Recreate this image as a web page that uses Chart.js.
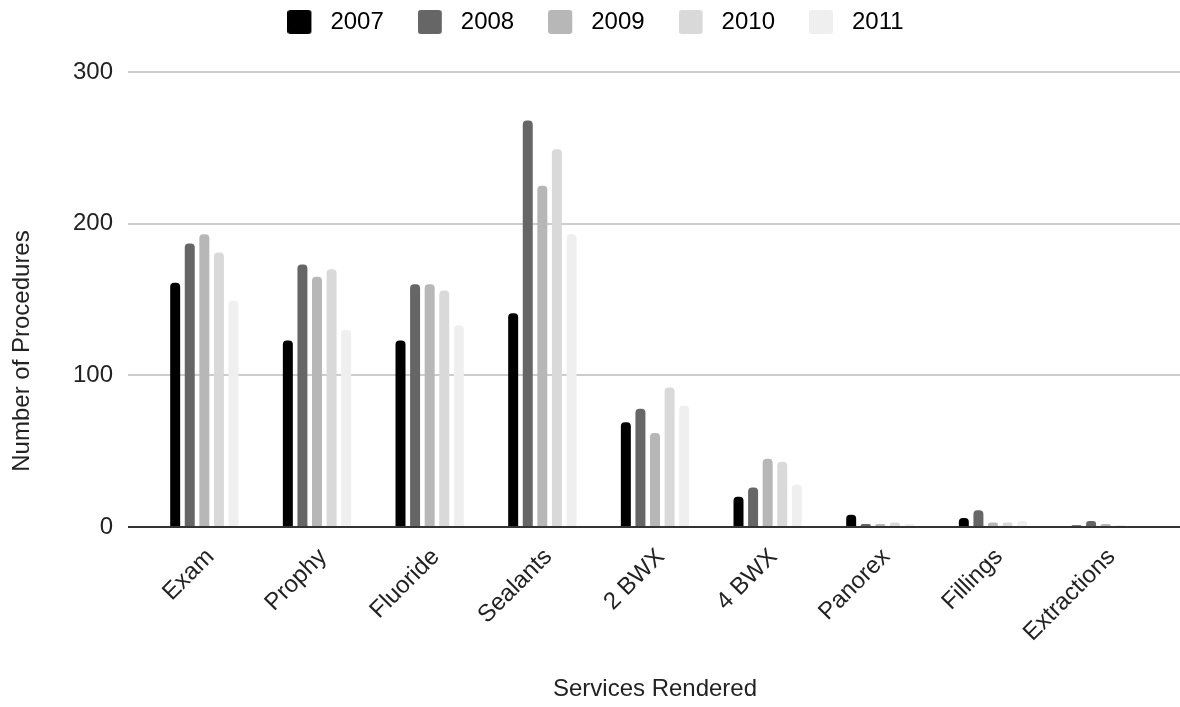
<!DOCTYPE html>
<html>
<head>
<meta charset="utf-8">
<script src="https://cdn.jsdelivr.net/npm/chart.js@4"></script>
<style>
    body { margin: 0; background: #ffffff; }
    canvas { display: block; }
</style>
</head>
<body>
<canvas id="servicesChart" width="1180" height="707"></canvas>
<script>
// categories on the x axis
const services = ["Exam", "Prophy", "Fluoride", "Sealants", "2 BWX", "4 BWX", "Panorex", "Fillings", "Extractions"];

// one series per year
const years = ["2007", "2008", "2009", "2010", "2011"];
const counts2007 = [161, 123, 123, 141, 69, 20, 8, 6, 1];
const counts2008 = [187, 173, 160, 268, 78, 26, 2, 11, 4];
const counts2009 = [193, 165, 160, 225, 62, 45, 2, 3, 2];
const counts2010 = [181, 170, 156, 249, 92, 43, 3, 3, 1];
const counts2011 = [149, 130, 133, 193, 80, 28, 2, 4, 0];

// y axis ticks
const yTicks = [0, 100, 200, 300];

const greys = ['#000000', '#666666', '#b7b7b7', '#d9d9d9', '#efefef'];
const fontFamily = '"Liberation Sans", Arial, sans-serif';
const textColor = '#222222';

document.addEventListener('DOMContentLoaded', function () {

    const ctx = document.getElementById('servicesChart');

    Chart.defaults.font.family = fontFamily;
    Chart.defaults.font.size = 24;
    Chart.defaults.color = textColor;

    // little square swatch with some empty room on its right, used as the legend marker
    function makeSwatch(color) {
        const c = document.createElement('canvas');
        c.width = 31;
        c.height = 24;
        const g = c.getContext('2d');
        g.fillStyle = color;
        g.beginPath();
        g.roundRect(0, 0, 24, 24, 3);
        g.fill();
        return c;
    }
    const swatches = greys.map(makeSwatch);

    const legendHeight = {
        id: 'legendHeight',
        beforeInit(chart) {
            const fitValue = chart.legend.fit;
            chart.legend.fit = function fit() {
                fitValue.bind(chart.legend)();
                this.height = 96;
            };
        }
    };

    // grid lines run a bit past the bars on both sides, baseline on top of the bars
    const axisLines = {
        id: 'axisLines',
        beforeDatasetsDraw(chart) {
            const c = chart.ctx;
            const y = chart.scales.y;
            c.save();
            c.strokeStyle = '#cccccc';
            c.lineWidth = 2;
            yTicks.forEach((v) => {
                if (v === 0) return;
                const py = Math.round(y.getPixelForValue(v));
                c.beginPath();
                c.moveTo(128, py);
                c.lineTo(1180, py);
                c.stroke();
            });
            c.restore();
        },
        afterDatasetsDraw(chart) {
            const c = chart.ctx;
            const py = Math.round(chart.scales.y.getPixelForValue(0));
            c.save();
            c.strokeStyle = '#333333';
            c.lineWidth = 2;
            c.beginPath();
            c.moveTo(128, py);
            c.lineTo(1180, py);
            c.stroke();

            // y axis title
            c.fillStyle = textColor;
            c.font = '24px ' + fontFamily;
            c.textAlign = 'center';
            c.textBaseline = 'middle';
            c.translate(22, 351);
            c.rotate(-Math.PI / 2);
            c.fillText('Number of Procedures', 0, 0);
            c.restore();
        }
    };

    const series = [counts2007, counts2008, counts2009, counts2010, counts2011];

    const chartData = {
        labels: services,
        datasets: years.map((year, i) => ({
            label: year,
            data: series[i],
            backgroundColor: greys[i],
            borderSkipped: 'start',
            borderRadius: { topLeft: 4, topRight: 4 },
            categoryPercentage: 0.647,
            barPercentage: 0.685
        }))
    };

    const chartConfig = {
        type: 'bar',
        data: chartData,
        options: {
            responsive: false,
            animation: false,
            devicePixelRatio: 1,
            layout: {
                padding: { top: -24, left: 29, right: 18, bottom: 0 }
            },
            plugins: {
                tooltip: { enabled: false },
                legend: {
                    position: 'top',
                    labels: {
                        usePointStyle: true,
                        pointStyleWidth: 31,
                        boxHeight: 24,
                        padding: 34,
                        font: { size: 24 },
                        color: textColor,
                        generateLabels(chart) {
                            return chart.data.datasets.map((ds, i) => ({
                                text: ds.label,
                                pointStyle: swatches[i],
                                fillStyle: greys[i],
                                strokeStyle: greys[i],
                                lineWidth: 0,
                                hidden: false,
                                datasetIndex: i
                            }));
                        }
                    }
                }
            },
            scales: {
                x: {
                    grid: { display: false, drawTicks: false },
                    border: { display: false },
                    ticks: {
                        autoSkip: false,
                        maxRotation: 45,
                        minRotation: 45,
                        padding: 16,
                        labelOffset: 6,
                        font: { size: 24 },
                        color: textColor
                    },
                    title: {
                        display: true,
                        text: 'Services Rendered',
                        font: { size: 24 },
                        color: textColor,
                        padding: { top: 0, bottom: 3 }
                    },
                    afterFit(scale) {
                        scale.height = 180;
                    }
                },
                y: {
                    min: 0,
                    max: 300,
                    grid: { display: false, drawTicks: false },
                    border: { display: false },
                    ticks: {
                        stepSize: 100,
                        padding: 35,
                        font: { size: 24 },
                        color: textColor
                    },
                    afterFit(scale) {
                        scale.width = 119;
                    }
                }
            }
        },
        plugins: [legendHeight, axisLines]
    };

    new Chart(ctx, chartConfig);
});
</script>
</body>
</html>
